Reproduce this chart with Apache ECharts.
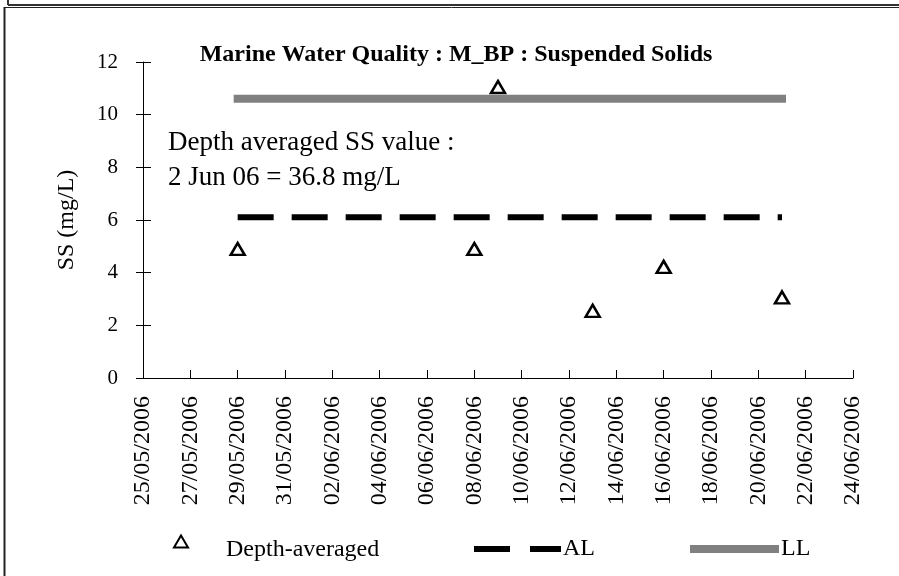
<!DOCTYPE html>
<html>
<head>
<meta charset="utf-8">
<script src="https://cdn.jsdelivr.net/npm/echarts@6/dist/echarts.min.js"></script>
<style>html,body{margin:0;padding:0;background:#fff;}#chart{width:899px;height:576px;}</style>
</head>
<body>
<div id="chart"></div>
<script>
// ---- data ----
const sampleDates = ['29/05/2006', '08/06/2006', '09/06/2006', '13/06/2006', '16/06/2006', '21/06/2006'];
const depthAveraged = [4.9, 4.9, 11.05, 2.55, 4.22, 3.06];
const limitDates = ['29/05/2006', '21/06/2006'];
const alValues = [6.1, 6.1];
const llValues = [10.6, 10.6];
const axisStartDate = '25/05/2006';
const axisEndDate = '24/06/2006';
const yMin = 0, yMax = 12, yStep = 2;
const xStepDays = 2;
const titleText = 'Marine Water Quality : M_BP : Suspended Solids';
const noteLines = ['Depth averaged SS value :', '2 Jun 06 = 36.8 mg/L'];
const yAxisName = 'SS (mg/L)';

// ---- helpers ----
function toUTC(s) { const p = s.split('/'); return Date.UTC(+p[2], +p[1] - 1, +p[0]); }
const baseT = toUTC(axisStartDate);
function dayIdx(s) { return Math.round((toUTC(s) - baseT) / 86400000); }
function pad(n) { return (n < 10 ? '0' : '') + n; }
function fmtDay(v) {
  const d = new Date(baseT + v * 86400000);
  return pad(d.getUTCDate()) + '/' + pad(d.getUTCMonth() + 1) + '/' + d.getUTCFullYear();
}

const FONT = 'Liberation Serif';
const chart = echarts.init(document.getElementById('chart'));
chart.setOption({
  backgroundColor: '#fff',
  animation: false,
  title: [
    { text: titleText, left: 456, top: 43, textAlign: 'center', padding: 0,
      textStyle: { fontFamily: FONT, fontWeight: 'bold', fontSize: 24, color: '#000' } },
    { text: noteLines.join('\n'), left: 168, top: 125, padding: 0,
      textStyle: { fontFamily: FONT, fontWeight: 'normal', fontSize: 27, lineHeight: 35, color: '#000' } }
  ],
  grid: { left: 143, right: 46, top: 62, bottom: 198, containLabel: false },
  xAxis: {
    type: 'value', min: 0, max: dayIdx(axisEndDate), interval: xStepDays,
    axisLine: { lineStyle: { color: '#000', width: 1 } },
    axisTick: { inside: true, length: 8, lineStyle: { color: '#000' } },
    splitLine: { show: false },
    axisLabel: { rotate: 90, formatter: fmtDay, fontFamily: FONT, fontSize: 24, color: '#000', margin: 18 }
  },
  yAxis: [
    { type: 'value', min: yMin, max: yMax, interval: yStep,
      name: yAxisName, nameLocation: 'middle', nameGap: 64, nameRotate: 90,
      nameTextStyle: { fontFamily: FONT, fontSize: 24, color: '#000' },
      axisLine: { show: true, lineStyle: { color: '#000', width: 1 } },
      axisTick: { show: true, length: 7, lineStyle: { color: '#000' } },
      splitLine: { show: false },
      axisLabel: { fontFamily: FONT, fontSize: 21, color: '#000', margin: 25 } },
    { type: 'value', min: yMin, max: yMax, interval: yStep, position: 'left', offset: 0,
      axisLine: { show: false }, axisLabel: { show: false }, splitLine: { show: false },
      axisTick: { show: true, inside: true, length: 8, lineStyle: { color: '#000' } } }
  ],
  legend: [
    { data: ['Depth-averaged'], left: 173, top: 521, padding: 0, itemWidth: 14, itemHeight: 12, itemGap: 0,
      formatter: name => '\n' + name,
      textStyle: { fontFamily: FONT, fontSize: 24, lineHeight: 17, color: '#000', padding: [0, 0, 0, 33] } },
    { data: [{ name: 'AL', icon: 'path://M0,0H36V6H0Z M56,0H87V6H56Z' }], left: 474, top: 537, padding: 0,
      itemWidth: 87, itemHeight: 6, textStyle: { fontFamily: FONT, fontSize: 24, color: '#000', padding: [0, 0, 0, -3] } },
    { data: [{ name: 'LL', icon: 'rect' }], left: 690, top: 537, padding: 0,
      itemWidth: 89, itemHeight: 8, textStyle: { fontFamily: FONT, fontSize: 24, color: '#000', padding: [0, 0, 0, -3] } }
  ],
  series: [
    { name: 'LL', type: 'line', symbol: 'none', silent: true,
      data: limitDates.map((d, i) => [dayIdx(d), llValues[i]]),
      lineStyle: { color: '#808080', width: 8, cap: 'square' }, itemStyle: { color: '#808080' } },
    { name: 'AL', type: 'line', symbol: 'none', silent: true,
      data: limitDates.map((d, i) => [dayIdx(d), alValues[i]]),
      lineStyle: { color: '#000', width: 6, type: [36, 18], cap: 'butt' }, itemStyle: { color: '#000' } },
    { name: 'Depth-averaged', type: 'scatter', symbol: 'triangle', symbolSize: [14, 12],
      data: sampleDates.map((d, i) => [dayIdx(d), depthAveraged[i]]),
      itemStyle: { color: '#fff', borderColor: '#000', borderWidth: 2.5, opacity: 1 } }
  ],
  graphic: [
    { type: 'line', shape: { x1: 8, y1: 5, x2: 899, y2: 5 }, style: { stroke: '#333', lineWidth: 2 } },
    { type: 'line', shape: { x1: 8, y1: 0, x2: 8, y2: 5 }, style: { stroke: '#333', lineWidth: 2 } },
    { type: 'line', shape: { x1: 4, y1: 7.5, x2: 899, y2: 7.5 }, style: { stroke: '#222', lineWidth: 1 } },
    { type: 'line', shape: { x1: 4.5, y1: 7, x2: 4.5, y2: 576 }, style: { stroke: '#222', lineWidth: 2 } }
  ]
});
</script>
</body>
</html>
